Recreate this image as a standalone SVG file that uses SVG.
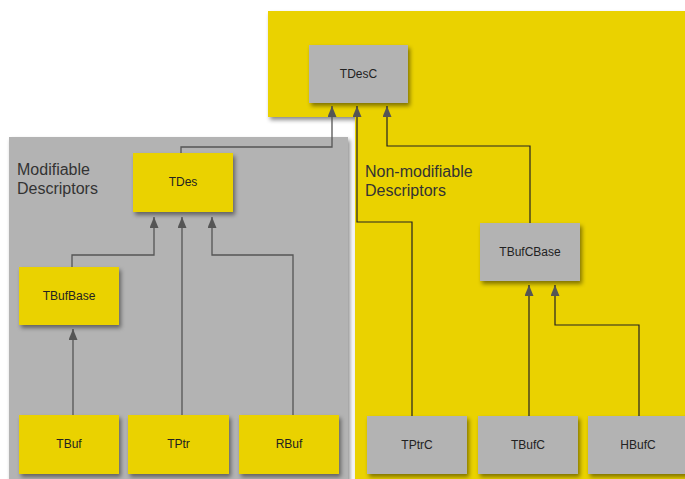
<svg xmlns="http://www.w3.org/2000/svg" width="685" height="479" viewBox="0 0 685 479">
<style>
.ynode{fill:#ead200}
.gnode{fill:#b3b3b3}
.lbl{font-family:"Liberation Sans",Arial,sans-serif;font-size:12px;fill:#222;text-anchor:middle}
.title{font-family:"Liberation Sans",Arial,sans-serif;font-size:16px;fill:#333}
.cg{fill:none;stroke:#555;stroke-width:1.3}
.cy{fill:none;stroke:#222;stroke-width:1.2}
</style>
<defs>
<filter id="sh" x="-20%" y="-20%" width="150%" height="150%">
<feDropShadow dx="2" dy="3" stdDeviation="2" flood-color="#000" flood-opacity="0.45"/>
</filter>
<marker id="ah" viewBox="0 0 11 9" refX="11" refY="4.5" markerWidth="11" markerHeight="9" markerUnits="userSpaceOnUse" orient="auto">
<path d="M0,0 L11,4.5 L0,9 Z" fill="#555"/>
</marker>
</defs>
<rect width="685" height="479" fill="#fff"/>
<g id="nonmodifiable-region">
<polygon points="268,11 685,11 685,479 355,479 355,117 268,117" fill="#ead200" filter="url(#sh)"/>
<text class="title" x="365" y="177">Non-modifiable</text>
<text class="title" x="365" y="196">Descriptors</text>
</g>
<g id="modifiable-region">
<rect x="9" y="137" width="339" height="345" fill="#b3b3b3" filter="url(#sh)"/>
<text class="title" x="17" y="175">Modifiable</text>
<text class="title" x="17" y="194">Descriptors</text>
</g>
<g id="connectors">
<polyline class="cg" points="181,153 181,147 332,147 332,106" marker-end="url(#ah)"/>
<polyline class="cy" points="412,416 412,222 357,222 357,106" marker-end="url(#ah)"/>
<polyline class="cy" points="530,223 530,146 387,146 387,106" marker-end="url(#ah)"/>
<polyline class="cg" points="72,267 72,255 154,255 154,217" marker-end="url(#ah)"/>
<polyline class="cg" points="182,415 182,217" marker-end="url(#ah)"/>
<polyline class="cg" points="293,415 293,255 212,255 212,217" marker-end="url(#ah)"/>
<polyline class="cg" points="73,415 73,329" marker-end="url(#ah)"/>
<polyline class="cy" points="529,416 529,285" marker-end="url(#ah)"/>
<polyline class="cy" points="639,416 639,325 555,325 555,285" marker-end="url(#ah)"/>
</g>
<g id="TDesC"><rect class="gnode" x="309" y="45" width="99" height="58" filter="url(#sh)"/><text class="lbl" x="358.5" y="78">TDesC</text></g>
<g id="TDes"><rect class="ynode" x="133" y="153" width="100" height="59" filter="url(#sh)"/><text class="lbl" x="183" y="186">TDes</text></g>
<g id="TBufBase"><rect class="ynode" x="19" y="267" width="100" height="58" filter="url(#sh)"/><text class="lbl" x="69" y="300">TBufBase</text></g>
<g id="TBuf"><rect class="ynode" x="19" y="415" width="100" height="59" filter="url(#sh)"/><text class="lbl" x="69" y="448">TBuf</text></g>
<g id="TPtr"><rect class="ynode" x="128" y="415" width="101" height="59" filter="url(#sh)"/><text class="lbl" x="178.5" y="448">TPtr</text></g>
<g id="RBuf"><rect class="ynode" x="239" y="415" width="100" height="59" filter="url(#sh)"/><text class="lbl" x="289" y="448">RBuf</text></g>
<g id="TBufCBase"><rect class="gnode" x="480" y="223" width="100" height="58" filter="url(#sh)"/><text class="lbl" x="530" y="256">TBufCBase</text></g>
<g id="TPtrC"><rect class="gnode" x="367" y="416" width="100" height="58" filter="url(#sh)"/><text class="lbl" x="417" y="449">TPtrC</text></g>
<g id="TBufC"><rect class="gnode" x="478" y="416" width="100" height="58" filter="url(#sh)"/><text class="lbl" x="528" y="449">TBufC</text></g>
<g id="HBufC"><rect class="gnode" x="588" y="416" width="100" height="58" filter="url(#sh)"/><text class="lbl" x="638" y="449">HBufC</text></g>
</svg>
